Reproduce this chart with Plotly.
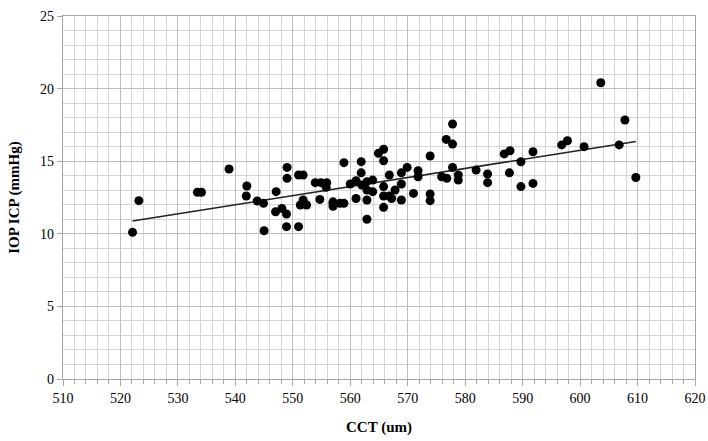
import numpy as np
import plotly.graph_objects as go

cct = [522.1, 523.2, 533.4, 534.1, 538.9,
       542.0, 541.9, 543.8, 544.9, 545.0, 547.1, 547.0, 548.1, 548.9, 548.9, 551.0,
       549.0, 549.0, 551.0, 551.8, 551.8, 551.3, 552.4, 553.9, 554.9, 555.9, 555.8,
       554.7, 557.0,
       557.0, 557.0, 558.2, 558.9, 558.9, 561.9, 561.9, 560.0, 561.0, 562.0, 562.9,
       563.9, 562.9, 563.9, 561.0, 562.9, 562.9, 564.9, 565.8, 565.8, 566.8, 565.8,
       565.8, 566.8, 565.8, 567.8, 567.2, 568.9, 569.9, 568.9, 568.9, 571.0, 571.8,
       571.8, 573.9, 573.9, 573.9,
       577.8, 576.7, 577.8, 577.8, 575.9, 576.8, 578.8, 578.8, 581.9, 583.9, 583.9,
       586.8, 587.8, 587.7, 589.7, 589.7, 591.8, 591.8,
       603.6, 607.8, 596.8, 597.8, 600.7, 606.8, 609.7]
iop = [10.1, 12.28, 12.86, 12.86, 14.46,
       13.29, 12.6, 12.26, 12.1, 10.21, 12.9, 11.52, 11.75, 11.36, 10.49, 10.49,
       14.57, 13.82, 14.05, 14.05, 12.33, 11.98, 11.98, 13.52, 13.52, 13.52, 13.2,
       12.37, 12.1,
       12.2, 11.9, 12.1, 12.1, 14.9, 14.97, 14.2, 13.43, 13.66, 13.36, 13.59,
       13.7, 13.02, 12.9, 12.43, 12.33, 11.0, 15.54, 15.82, 15.03, 14.05, 13.25,
       12.6, 12.6, 11.82, 13.02, 12.43, 14.2, 14.57, 13.43, 12.33, 12.78, 14.34,
       13.93, 15.36, 12.74, 12.28,
       17.56, 16.5, 16.18, 14.57, 13.93, 13.82, 14.05, 13.7, 14.39, 14.12, 13.52,
       15.5, 15.72, 14.2, 14.96, 13.25, 15.65, 13.47,
       20.4, 17.84, 16.12, 16.41, 16.0, 16.12, 13.88]

x_ticks = [510, 520, 530, 540, 550, 560, 570, 580, 590, 600, 610, 620]
y_ticks = [0, 5, 10, 15, 20, 25]

slope, intercept = np.polyfit(cct, iop, 1)
trend_x = [min(cct), max(cct)]
trend_y = [slope * v + intercept for v in trend_x]

font_family = "Liberation Serif"
major_grid = "#bdbdbd"
minor_grid = "#d6d6d6"

fig = go.Figure()
fig.add_trace(go.Scatter(x=trend_x, y=trend_y, mode="lines",
                         line=dict(color="#222222", width=1.5), hoverinfo="skip"))
fig.add_trace(go.Scatter(x=cct, y=iop, mode="markers",
                         marker=dict(color="black", size=9, line=dict(width=0))))

fig.update_layout(
    width=708, height=441,
    margin=dict(l=63, r=13, t=16, b=62),
    plot_bgcolor="white", paper_bgcolor="white",
    showlegend=False,
    font=dict(family=font_family, size=14, color="black"),
)
fig.update_xaxes(
    automargin=False,
    range=[510, 620], tickvals=x_ticks, ticktext=[str(v) for v in x_ticks],
    showgrid=True, gridcolor=major_grid, gridwidth=1.3,
    showline=True, linecolor="#a6a6a6", linewidth=1.3, mirror=True,
    ticks="outside", ticklen=6, tickcolor="#a6a6a6",
    minor=dict(dtick=2, showgrid=True, gridcolor=minor_grid, gridwidth=1,
               ticks="outside", ticklen=4, tickcolor="#a6a6a6"),
    zeroline=False, tickfont=dict(size=14),
    title=dict(text="<b>CCT (um)</b>", font=dict(size=15), standoff=16),
)
fig.update_yaxes(
    automargin=False,
    range=[0, 25], tickvals=y_ticks, ticktext=[str(v) for v in y_ticks],
    showgrid=True, gridcolor=major_grid, gridwidth=1.3,
    showline=True, linecolor="#a6a6a6", linewidth=1.3, mirror=True,
    ticks="outside", ticklen=5, tickcolor="#a6a6a6",
    minor=dict(dtick=1, showgrid=True, gridcolor=minor_grid, gridwidth=1),
    zeroline=False, tickfont=dict(size=14),
    title=dict(text="<b>IOP ICP (mmHg)</b>", font=dict(size=15), standoff=16),
)
fig.write_html("out.html")
